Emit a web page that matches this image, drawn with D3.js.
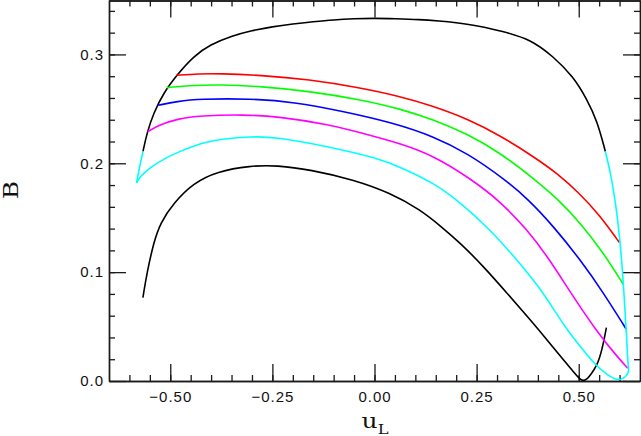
<!DOCTYPE html>
<html>
<head>
<meta charset="utf-8">
<script src="https://cdn.jsdelivr.net/npm/d3@7"></script>
<style>
  html, body { margin: 0; padding: 0; background: #fff; }
  svg { display: block; }
  .tick text { font-family: "Liberation Sans", Arial, sans-serif; font-size: 15px; letter-spacing: 1px; fill: #111; }
</style>
</head>
<body>
<svg id="chart" width="641" height="436"></svg>
<script>
// ---- Data (u_L, B) ----
const xMajorTicks = [-0.5, -0.25, 0, 0.25, 0.5];
const xTickLabels = ["\u22120.50", "\u22120.25", "0.00", "0.25", "0.50"];
const yMajorTicks = [0, 0.1, 0.2, 0.3];
const yTickLabels = ["0.0", "0.1", "0.2", "0.3"];

const envelope = [
  [-0.5668,0.2109],[-0.557,0.228],[-0.541,0.246],[-0.516,0.265],[-0.483,0.2815],
  [-0.443,0.2984],[-0.402,0.3091],[-0.35,0.317],[-0.30,0.322],[-0.25,0.3255],
  [-0.20,0.328],[-0.15,0.330],[-0.10,0.3318],[-0.05,0.3328],[0,0.3333],
  [0.05,0.3328],[0.112,0.332],[0.15,0.331],[0.235,0.328],[0.316,0.321],
  [0.381,0.314],[0.437,0.2984],[0.487,0.2795],[0.520,0.2588],[0.545,0.2390],[0.5652,0.2109]
];
const red = [
  [-0.4854,0.2809],[-0.43,0.2822],[-0.38,0.2824],[-0.28,0.2810],[-0.16,0.2770],
  [-0.04,0.2697],[0.06,0.2617],[0.14,0.2530],[0.23,0.2405],[0.31,0.2250],
  [0.39,0.2060],[0.45,0.1900],[0.50,0.1730],[0.55,0.1530],[0.5996,0.1272]
];
const green = [
  [-0.5082,0.2695],[-0.4592,0.2714],[-0.3777,0.2723],[-0.2797,0.2707],[-0.1572,0.2661],
  [-0.0348,0.2585],[0.0632,0.2500],[0.1447,0.2401],[0.2265,0.2272],[0.3082,0.2095],
  [0.3897,0.1860],[0.4509,0.1665],[0.5040,0.1451],[0.5611,0.1175],[0.6086,0.0890]
];
const blue = [
  [-0.5295,0.2533],[-0.4837,0.2569],[-0.4266,0.2591],[-0.3042,0.2594],[-0.1981,0.2564],
  [-0.0757,0.2477],[0.0468,0.2371],[0.1447,0.2247],[0.2265,0.2095],[0.3204,0.1849],
  [0.3774,0.1665],[0.4386,0.1419],[0.5040,0.1113],[0.5611,0.0807],[0.6160,0.0478]
];
const magenta = [
  [-0.5557,0.2291],[-0.5246,0.2355],[-0.4837,0.2407],[-0.4266,0.2438],[-0.3206,0.2447],
  [-0.2388,0.2431],[-0.1163,0.2362],[0.0061,0.2240],[0.0632,0.2180],[0.1447,0.2070],
  [0.2346,0.1860],[0.3082,0.1650],[0.3735,0.1390],[0.4225,0.1150],[0.4795,0.0815],
  [0.5449,0.0450],[0.5939,0.0225],[0.6199,0.0117]
];
const cyanLeftEdge = [[-0.5668,0.2109],[-0.575,0.1969],[-0.5827,0.1819]];
const cyan = [
  [-0.5827,0.1819],[-0.5736,0.1879],[-0.5491,0.1962],[-0.5082,0.2056],[-0.4756,0.2110],
  [-0.4431,0.2160],[-0.4102,0.2195],[-0.3777,0.2220],[-0.3042,0.2247],[-0.2388,0.2240],
  [-0.1163,0.2155],[0.0061,0.2049],[0.0632,0.1966],[0.1447,0.1819],[0.2021,0.1665],
  [0.2836,0.1389],[0.3490,0.1113],[0.4019,0.0868],[0.4386,0.0660],[0.4715,0.0469],
  [0.5040,0.0316],[0.5366,0.0163],[0.5694,0.0055],[0.5939,0.0005],[0.6101,0.0025],
  [0.6184,0.0055],[0.6223,0.0092]
];
const cyanRightEdge = [
  [0.6223,0.0092],[0.6199,0.0193],[0.6167,0.0439],[0.6118,0.0745],[0.6062,0.1060],
  [0.6003,0.1310],[0.5939,0.1530],[0.5856,0.1740],[0.5775,0.1915],[0.5652,0.2109]
];
const blackLower = [
  [-0.5670,0.0766],[-0.5572,0.0991],[-0.5410,0.1267],[-0.5246,0.1451],[-0.4920,0.1635],
  [-0.4431,0.1819],[-0.3857,0.1925],[-0.3042,0.1978],[-0.2388,0.1981],[-0.1572,0.1941],
  [-0.0512,0.1849],[0.0387,0.1727],[0.1122,0.1573],[0.1612,0.1425],[0.2102,0.1267],
  [0.2672,0.1051],[0.3245,0.0807],[0.3816,0.0561],[0.4225,0.0377],[0.4631,0.0193],
  [0.4876,0.0080],[0.5020,0.0020],[0.5100,0.0],[0.5200,0.0015],[0.5285,0.0055],
  [0.5449,0.0140],[0.5572,0.0285],[0.5677,0.0490]
];

// ---- Layout ----
const svg = d3.select("#chart");
const mLeft = 109, mRight = 640, mTop = 0, mBottom = 381;
const x = d3.scaleLinear().domain([-0.65, 0.65]).range([mLeft, mRight]);
const y = d3.scaleLinear().domain([0, 0.35]).range([mBottom, mTop]);

const xMinor = d3.range(-0.6, 0.6001, 0.05).map(v => +v.toFixed(2));
const yMinor = d3.range(0.02, 0.3401, 0.02).map(v => +v.toFixed(2));

const axisColor = "#1a1a1a";
function styleAxis(g) {
  g.selectAll("path.domain").attr("stroke", axisColor).attr("stroke-width", 1.4);
  g.selectAll(".tick line").attr("stroke", axisColor).attr("stroke-width", 1.3);
}

// minor ticks
svg.append("g").attr("transform", `translate(0,${mBottom})`)
  .call(d3.axisBottom(x).tickValues(xMinor).tickSize(-6).tickSizeOuter(0).tickFormat(""))
  .call(styleAxis);
svg.append("g").attr("transform", `translate(0,${mTop + 0.5})`)
  .call(d3.axisTop(x).tickValues(xMinor).tickSize(-6).tickSizeOuter(0).tickFormat(""))
  .call(styleAxis);
svg.append("g").attr("transform", `translate(${mLeft},0)`)
  .call(d3.axisLeft(y).tickValues(yMinor).tickSize(-6).tickSizeOuter(0).tickFormat(""))
  .call(styleAxis);
svg.append("g").attr("transform", `translate(${mRight},0)`)
  .call(d3.axisRight(y).tickValues(yMinor).tickSize(-6).tickSizeOuter(0).tickFormat(""))
  .call(styleAxis);

// major ticks
svg.append("g").attr("transform", `translate(0,${mBottom})`)
  .call(d3.axisBottom(x).tickValues(xMajorTicks).tickSize(-17).tickSizeOuter(0).tickPadding(10)
    .tickFormat((d, i) => xTickLabels[i]))
  .call(styleAxis);
svg.append("g").attr("transform", `translate(0,${mTop + 0.5})`)
  .call(d3.axisTop(x).tickValues(xMajorTicks).tickSize(-17).tickSizeOuter(0).tickFormat(""))
  .call(styleAxis);
svg.append("g").attr("transform", `translate(${mLeft},0)`)
  .call(d3.axisLeft(y).tickValues(yMajorTicks).tickSize(-17).tickSizeOuter(0).tickPadding(5)
    .tickFormat((d, i) => yTickLabels[i]))
  .call(styleAxis);
svg.append("g").attr("transform", `translate(${mRight},0)`)
  .call(d3.axisRight(y).tickValues(yMajorTicks).tickSize(-17).tickSizeOuter(0).tickFormat(""))
  .call(styleAxis);

svg.selectAll(".tick text").attr("fill", "#111");

// ---- Curves ----
const line = d3.line().x(d => x(d[0])).y(d => y(d[1])).curve(d3.curveBasis);
const lw = 1.6;
const series = [
  [envelope, "#000000"],
  [blackLower, "#000000"],
  [red, "#ff0000"],
  [green, "#00ff00"],
  [blue, "#0000ff"],
  [magenta, "#ff00ff"],
  [cyan, "#00ffff"],
  [cyanLeftEdge, "#00ffff"],
  [cyanRightEdge, "#00ffff"]
];
svg.append("g").selectAll("path").data(series).join("path")
  .attr("d", d => line(d[0]))
  .attr("fill", "none")
  .attr("stroke", d => d[1])
  .attr("stroke-width", lw)
  .attr("stroke-linejoin", "round");

// ---- Axis titles ----
svg.append("text")
  .attr("transform", `translate(18,190) rotate(-90) scale(1.25,1)`)
  .attr("text-anchor", "middle")
  .attr("font-family", "'DejaVu Serif', serif")
  .attr("font-size", 20)
  .attr("fill", "#111")
  .text("B");

const xt = svg.append("text")
  .attr("transform", `translate(375,428) scale(1.25,1)`)
  .attr("text-anchor", "middle")
  .attr("font-family", "'DejaVu Serif', serif")
  .attr("font-size", 20)
  .attr("fill", "#111");
xt.append("tspan").text("u");
xt.append("tspan").attr("font-size", 13).attr("dy", 6).text("L");
</script>
</body>
</html>
